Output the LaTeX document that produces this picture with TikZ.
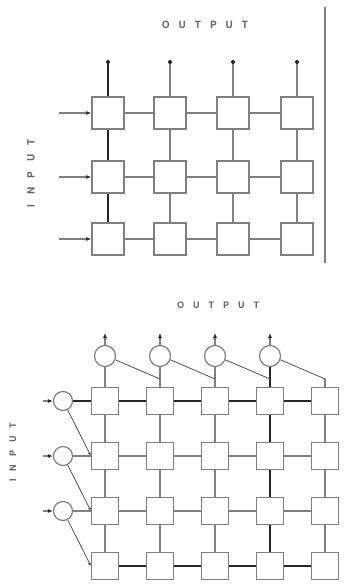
\documentclass[tikz,border=0pt]{standalone}
\usepackage{fontspec}
\setmainfont{TeX Gyre Heros}
\usetikzlibrary{arrows.meta}
\definecolor{linegray}{gray}{0.5}
\definecolor{darkline}{gray}{0.15}
\definecolor{textgray}{gray}{0.4}
\begin{document}
\begin{tikzpicture}[x=1pt,y=-1pt,
  wire/.style={draw=linegray, line width=1.3pt},
  heavy/.style={draw=darkline, line width=1.8pt},
  thin/.style={draw=darkline!80, line width=0.8pt},
  cellA/.style={draw=linegray, line width=1.4pt, minimum size=32pt, inner sep=0pt, fill=white},
  cellB/.style={draw=linegray, line width=1.3pt, minimum size=27pt, inner sep=0pt, fill=white},
  ring/.style={circle, draw=linegray, line width=1.2pt, inner sep=0pt, fill=white},
  tip/.style={-{Latex[length=5pt,width=4pt,color=darkline]}},
  lbl/.style={text=textgray, inner sep=0pt}]
\useasboundingbox (0,0) rectangle (345,587);

% ---------------- upper array ----------------
\foreach \c/\x in {1/108,2/170,3/233,4/297}
  \foreach \r/\y in {1/113,2/177,3/239}
    \node[cellA] (a\r\c) at (\x,\y) {};

% row links
\foreach \r in {1,2,3}
  \foreach \c/\n in {1/2,2/3,3/4}
    \draw[wire] (a\r\c) -- (a\r\n);

% column links; the first column is drawn heavy
\foreach \c in {2,3,4}
  \draw[wire] (a1\c) -- (a2\c) (a2\c) -- (a3\c);
\draw[heavy] (a11) -- (a21) (a21) -- (a31);

% outputs at the top of every column
\foreach \c/\x in {1/108,2/170,3/233,4/297}
  \coordinate (ao\c) at (\x,62);
\draw[heavy] (a11) -- (ao1);
\foreach \c in {2,3,4}
  \draw[wire] (a1\c) -- (ao\c);
\foreach \c in {1,2,3,4}
  \fill[darkline] (ao\c) circle (2pt);

% inputs on the left of every row
\foreach \r/\y in {1/113,2/177,3/239}{
  \coordinate (ai\r) at (59,\y);
  \draw[wire, tip] (ai\r) -- (a\r1);
}

% separating rule
\coordinate (ruleT) at (325,7);
\coordinate (ruleB) at (325,263);
\draw[draw=linegray, line width=1.3pt] (ruleT) -- (ruleB);

\node[lbl, font=\bfseries\fontsize{10}{12}\selectfont] (outA) at (205,25)
  {O\kern9pt U\kern9pt T\kern9pt P\kern9pt U\kern9pt T};
\node[lbl, font=\bfseries\fontsize{10}{12}\selectfont, rotate=90] (inA) at (31,173)
  {I\kern9.5pt N\kern9.5pt P\kern9.5pt U\kern9.5pt T};

% ---------------- lower array ----------------
\foreach \c/\x in {1/105,2/160,3/215,4/270,5/325}
  \foreach \r/\y in {1/401,2/456,3/511,4/566}
    \node[cellB] (b\r\c) at (\x,\y) {};

% output adders above columns 1-4
\foreach \c/\x in {1/105,2/160,3/215,4/270}
  \node[ring, minimum size=21pt] (oc\c) at (\x,356) {};

% input adders left of rows 1-3
\foreach \r/\y in {1/401,2/456,3/511}
  \node[ring, minimum size=19pt] (ic\r) at (63,\y) {};

% row links: rows 1 and 4 heavy
\foreach \r in {2,3}
  \foreach \c/\n in {1/2,2/3,3/4,4/5}
    \draw[wire] (b\r\c) -- (b\r\n);
\foreach \r in {1,4}
  \foreach \c/\n in {1/2,2/3,3/4,4/5}
    \draw[heavy] (b\r\c) -- (b\r\n);

% column links: column 4 heavy
\foreach \c in {1,2,3,5}
  \draw[wire] (b1\c) -- (b2\c) (b2\c) -- (b3\c) (b3\c) -- (b4\c);
\draw[heavy] (b14) -- (b24) (b24) -- (b34) (b34) -- (b44);

% adders to the array
\draw[heavy] (ic1) -- (b11);
\draw[wire] (ic2) -- (b21) (ic3) -- (b31);
\foreach \c in {1,2,3}
  \draw[wire] (oc\c) -- (b1\c);
\draw[heavy] (oc4) -- (b14);

% taps just above the first row
\foreach \c/\x in {2/160,3/215,4/270,5/325}
  \coordinate (st\c) at (\x,379);
\draw[wire] (st5) -- (b15);

% diagonal feeds between neighbouring adders
\foreach \c/\n in {1/2,2/3,3/4,4/5}
  \draw[thin] (oc\c.-20) -- (st\n);
\foreach \r/\n in {1/2,2/3,3/4}
  \draw[thin, -{Latex[length=3.5pt,width=2.8pt]}] (ic\r.-62) -- (b\n1.west);

% output arrows
\foreach \c/\x in {1/105,2/160,3/215,4/270}{
  \coordinate (oa\c) at (\x,333);
  \draw[wire, tip] (oc\c) -- (oa\c);
}

% input arrows
\foreach \r/\y in {1/401,2/456,3/511}{
  \coordinate (ia\r) at (43,\y);
  \draw[wire, tip] (ia\r) -- (ic\r);
}

\node[lbl, font=\bfseries\fontsize{9}{11}\selectfont] (outB) at (218,305)
  {O\kern9pt U\kern9pt T\kern9pt P\kern9pt U\kern9pt T};
\node[lbl, font=\bfseries\fontsize{9}{11}\selectfont, rotate=90] (inB) at (13,452)
  {I\kern8pt N\kern8pt P\kern8pt U\kern8pt T};
\end{tikzpicture}
\end{document}
